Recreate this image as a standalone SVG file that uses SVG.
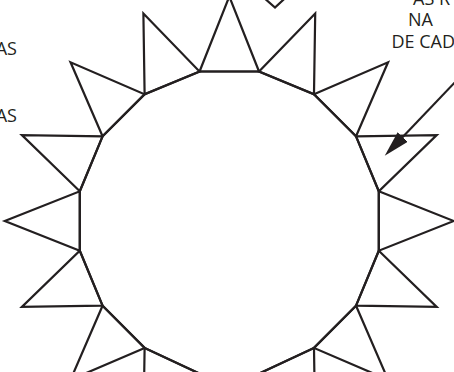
<svg xmlns="http://www.w3.org/2000/svg" width="454" height="372" viewBox="0 0 454 372">
<style>
.ln{fill:none;stroke:#231f20;stroke-width:2.2;stroke-linejoin:miter;stroke-linecap:butt}
.tx{font-family:"Open Sans","Noto Sans",sans-serif;font-size:18px;fill:#231f20}
</style>
<defs>
<marker id="ah" markerUnits="userSpaceOnUse" markerWidth="26" markerHeight="14" viewBox="0 0 26 14" refX="1" refY="7" orient="auto">
<path d="M0,0 L26,7 L0,14 z" fill="#231f20"/>
</marker>
</defs>
<rect width="454" height="372" fill="#fff"/>
<g id="core">
<polygon class="ln" points="259.04,71.5 313.99,94.26 356.04,136.31 378.8,191.26 378.8,250.74 356.04,305.69 313.99,347.9 259.04,373.6 199.56,373.6 144.61,347.9 102.56,305.69 79.8,250.74 79.8,191.26 102.56,136.31 144.61,94.26 199.56,71.5"/>
</g>
<g id="spike-n"><polygon class="ln" points="199.56,71.5 229.3,-3.5 259.04,71.5"/></g>
<g id="spike-nne"><polygon class="ln" points="259.04,71.5 315.21,13.59 313.99,94.26"/></g>
<g id="spike-ne"><polygon class="ln" points="313.99,94.26 388.05,62.25 356.04,136.31"/></g>
<g id="spike-ene"><polygon class="ln" points="356.04,136.31 436.71,135.09 378.8,191.26"/></g>
<g id="spike-e"><polygon class="ln" points="378.8,191.26 453.8,221 378.8,250.74"/></g>
<g id="spike-ese"><polygon class="ln" points="378.8,250.74 436.71,306.91 356.04,305.69"/></g>
<g id="spike-se"><polygon class="ln" points="356.04,305.69 388.05,379.75 313.99,347.9"/></g>
<g id="spike-sse"><polygon class="ln" points="313.99,347.9 315.21,428.41 259.04,373.6"/></g>
<g id="spike-s"><polygon class="ln" points="259.04,373.6 229.3,448.6 199.56,373.6"/></g>
<g id="spike-ssw"><polygon class="ln" points="199.56,373.6 143.39,428.41 144.61,347.9"/></g>
<g id="spike-sw"><polygon class="ln" points="144.61,347.9 70.55,379.75 102.56,305.69"/></g>
<g id="spike-wsw"><polygon class="ln" points="102.56,305.69 21.89,306.91 79.8,250.74"/></g>
<g id="spike-w"><polygon class="ln" points="79.8,250.74 4.8,221 79.8,191.26"/></g>
<g id="spike-wnw"><polygon class="ln" points="79.8,191.26 21.89,135.09 102.56,136.31"/></g>
<g id="spike-nw"><polygon class="ln" points="102.56,136.31 70.55,62.25 144.61,94.26"/></g>
<g id="spike-nnw"><polygon class="ln" points="144.61,94.26 143.39,13.59 199.56,71.5"/></g>
<g id="chevron"><polyline class="ln" points="265.3,-1 275,7.6 284.2,-1"/></g>
<g id="connectors">
<line class="ln" x1="462" y1="74.9" x2="402" y2="137.7" marker-end="url(#ah)"/>
</g>
<g id="labels">
<text class="tx" x="17" y="55" text-anchor="end">AS</text>
<text class="tx" x="17" y="121.7" text-anchor="end">AS</text>
<text class="tx" x="413" y="4.5">AS R</text>
<text class="tx" x="408" y="26">NA</text>
<text class="tx" x="391.5" y="47.7">DE CAD</text>
</g>
</svg>
